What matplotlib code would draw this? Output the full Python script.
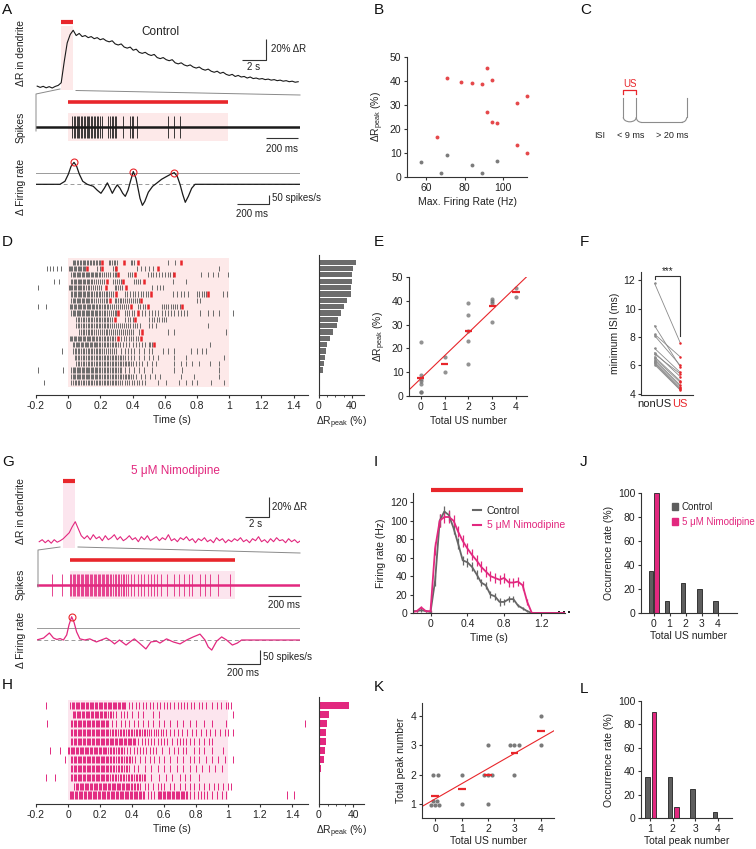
import numpy as np
import matplotlib
matplotlib.use('Agg')
import matplotlib.pyplot as plt
from matplotlib.lines import Line2D
from matplotlib.patches import Arc, Patch
from matplotlib.ticker import FuncFormatter

plt.rcParams['font.family'] = ['Liberation Sans', 'DejaVu Sans']
plt.rcParams['mathtext.fontset'] = 'custom'
plt.rcParams['mathtext.rm'] = 'Liberation Sans'
plt.rcParams['axes.unicode_minus'] = False
plt.rcParams['font.size'] = 7

RED = '#e8262b'
MAG = '#e2287f'
PINK = '#fde9e9'
PINK_N = '#fce5ee'
PT_GREY = '#7b7b7b'
BAR_GREY = '#5e5e5e'
AXC = '#333333'
TXT = '#222222'

# ---------------- data ----------------
stim = [0, 1]  # stimulus window (s)

# dR in dendrite, sampled every 0.25 s from -2 s (%)
dr_trace_ctrl = [0.8, -0.4, 0.6, -0.8, 0.3, -1.0, 0.5, 1.5, 4, 24, 42, 50, 54, 49, 51, 48,
                 49, 47, 48, 46, 47, 45, 46, 44, 43, 44, 41, 40, 41, 38, 37, 38,
                 35, 36, 33, 32, 33, 31, 30, 31, 28, 27, 28, 26, 25, 26, 23, 22,
                 23, 21, 20, 21, 19, 18, 19, 17, 16, 17, 15, 14, 15, 13, 14, 12,
                 11, 12, 10, 11, 9.5, 10, 8.5, 9.5, 8, 8.5, 7.5, 8, 7, 7.5, 6.5, 7,
                 6, 6.5, 5.5, 6, 5, 5.5, 4.5, 5]
dr_trace_nimo = [0, 2, -1, 1.5, -1.5, 2, -0.5, 1, 3, 6, 9, 15, 20, 13, 6, 3,
                 6, 2, 7, 3, 5, 1, 6, 2, 4, 7, 2, 5, 1, 3, 6, 2,
                 4, 0, 5, 2, 6, 1, 3, 5, 1, 4, 2, 7, 1, 3, 0, 4,
                 2, 5, 1, 3, -1, 3, 1, 4, 0, 2, -1, 4, 1, 3, -1, 2,
                 0, 3, 1, 4, 0, 2, -1, 3, 1, 5, 0, 2, -1, 3, 0, 4,
                 1, 2, -1, 3, 0, 2, -1, 1]

# delta firing rate traces (spikes/s)
fr_ctrl_t = [-0.2, -0.05, -0.019, 0.002, 0.019, 0.0375, 0.054, 0.071, 0.092, 0.12,
             0.158, 0.183, 0.206, 0.227, 0.246, 0.2625, 0.277, 0.294, 0.308, 0.325,
             0.342, 0.358, 0.375, 0.392, 0.408, 0.425, 0.44, 0.45, 0.465, 0.48,
             0.502, 0.529, 0.554, 0.585, 0.617, 0.642, 0.664, 0.683, 0.7, 0.717,
             0.733, 0.752, 0.773, 0.794, 1.45]
fr_ctrl_v = [0, 0, 17, 56, 100, 122, 100, 56, 17, 0,
             -11, -33, -50, -22, 8, -22, -50, -22, -3, -22,
             -50, -67, -33, 22, 71, 33, -33, -78, -117, -95,
             -44, -11, 6, 28, 44, 56, 65, 44, 0, -56,
             -100, -67, -22, 0, 0]
fr_ctrl_thr = 61
fr_nimo_t = [-0.202, -0.16, -0.125, -0.10, -0.08, -0.06, -0.04, -0.02, -0.006, 0.01,
             0.024, 0.04, 0.06, 0.09, 0.12, 0.16, 0.19, 0.22, 0.25, 0.27,
             0.30, 0.34, 0.37, 0.39, 0.42, 0.46, 0.49, 0.525, 0.545, 0.585,
             0.626, 0.667, 0.707, 0.747, 0.788, 0.818, 0.838, 0.859, 0.889, 0.919,
             0.949, 0.984, 1.014, 1.04, 1.394]
fr_nimo_v = [0, 7, 25, 7, 2, 5, 0, 18, 54, 83,
             64, 29, 4, 0, 4, -7, 0, 7, -4, -14,
             0, -18, -4, 4, -11, -32, -7, -4, -11, 4,
             -7, -14, 0, 11, 21, 0, -25, -36, -4, 11,
             0, -18, -11, 0, 0]
fr_nimo_thr = 42

# control raster: spike times (ms) per cell, sorted by dR peak; US = unitary spikes (bursts)
ctrl_rows = [
    [28, 37, 45, 54, 62, 71, 80, 89, 98, 107, 116, 125, 134, 143, 152, 161, 170, 180, 190, 198,
     252, 262, 273, 283, 293, 302, 388, 398, 408, 622, 662],
    [-130, -112, -92, -72, -42, 2, 10, 18, 26, 34, 42, 50, 58, 66, 74, 82, 90, 98, 106,
     180, 196, 276, 288, 300, 430, 455, 475, 500, 530, 935],
    [20, 28, 36, 44, 52, 60, 68, 76, 84, 92, 100, 108, 116, 124, 132, 140, 148, 156, 164, 172,
     180, 190, 200, 212, 224, 236, 250, 262, 276, 290, 300, 372, 385, 398,
     497, 512, 528, 545, 562, 580, 600, 618, 635, 650, 828, 870, 900, 932, 994],
    [-90, -60, 18, 26, 34, 42, 50, 58, 66, 74, 82, 90, 98, 106, 114, 122, 130, 140, 150, 160,
     172, 184, 196, 208, 220, 280, 292, 304, 318, 330, 412, 424, 436, 448, 650, 730],
    [-190, 2, 10, 18, 26, 34, 42, 50, 58, 66, 74, 82, 90, 100, 110, 120, 132, 144, 156, 168,
     180, 192, 204, 290, 300, 310, 322, 334, 520, 550, 570, 590],
    [18, 26, 34, 42, 50, 58, 66, 74, 82, 90, 98, 106, 114, 122, 130, 140, 150, 160, 170, 180,
     190, 200, 210, 220, 232, 244, 256, 268, 280, 352, 368, 385, 402, 418, 434, 450, 466, 482,
     498, 650, 675, 700, 720, 745, 800, 815, 830, 845, 858, 960, 985],
    [20, 28, 36, 44, 52, 60, 68, 76, 84, 92, 100, 108, 116, 124, 132, 140, 150, 160, 172, 184,
     196, 208, 220, 232, 244, 290, 300, 310, 320, 330, 342, 354, 366, 378, 390, 402, 414, 426,
     440, 800, 820],
    [-190, -140, 10, 18, 26, 34, 42, 50, 58, 66, 74, 82, 90, 98, 106, 114, 122, 130, 138, 146,
     154, 162, 170, 180, 190, 200, 210, 220, 230, 240, 250, 262, 274, 286, 298, 310, 322, 334,
     346, 358, 370, 432, 448, 464, 480, 580, 594, 608, 622, 636, 650, 664, 678, 692],
    [20, 28, 36, 44, 52, 60, 68, 76, 84, 92, 100, 108, 116, 124, 132, 140, 148, 156, 164, 172,
     180, 190, 200, 210, 220, 230, 240, 252, 264, 276, 288, 300, 350, 365, 380, 395, 410,
     460, 480, 500, 520, 540, 560, 580, 600, 620, 640, 660, 680, 700, 720, 740, 820, 870, 900,
     935, 1022],
    [50, 60, 70, 80, 90, 100, 110, 120, 130, 140, 150, 160, 170, 180, 190, 200, 210, 220, 230,
     240, 250, 260, 270, 355, 370, 385, 400, 505, 520, 535, 550, 565, 580, 595, 610],
    [50, 60, 70, 80, 90, 100, 110, 120, 130, 140, 150, 160, 170, 180, 190, 200, 210, 220, 230,
     240, 250, 262, 274, 286, 298, 310, 322, 334, 346, 358, 370, 385, 400, 415, 430, 445,
     500, 520, 545, 870],
    [70, 80, 90, 100, 110, 120, 130, 140, 150, 160, 172, 184, 196, 208, 220, 232, 244, 256, 268,
     280, 292, 304, 316, 328, 340, 352, 364, 376, 388, 400, 440, 620, 660, 980],
    [10, 18, 26, 34, 42, 50, 58, 66, 74, 82, 90, 98, 106, 114, 122, 130, 138, 146, 154, 162,
     170, 180, 190, 200, 210, 220, 230, 240, 250, 260, 270, 280, 290, 330, 345, 360, 375, 390,
     405, 420, 435],
    [30, 38, 46, 54, 62, 70, 78, 86, 94, 102, 110, 118, 126, 134, 142, 150, 158, 166, 174, 182,
     190, 200, 210, 220, 230, 240, 250, 260, 270, 280, 290, 300, 312, 324, 340, 360, 380, 400,
     420, 440, 460, 480, 500, 510, 520, 880],
    [-40, 30, 40, 50, 60, 70, 80, 90, 100, 110, 120, 130, 140, 150, 160, 170, 180, 190, 200,
     212, 224, 236, 248, 260, 272, 284, 296, 330, 350, 370, 390, 410, 440, 470, 500, 520,
     590, 620, 660, 760, 800, 830, 855],
    [40, 50, 60, 70, 80, 90, 100, 110, 120, 130, 140, 150, 160, 170, 180, 190, 200, 210, 220,
     230, 240, 250, 260, 270, 280, 290, 300, 310, 320, 330, 340, 350, 370, 390, 410, 440, 470,
     500, 530, 560, 655, 730, 970],
    [50, 60, 70, 80, 90, 100, 110, 120, 130, 140, 150, 160, 170, 180, 190, 200, 210, 220, 230,
     240, 250, 260, 270, 280, 290, 300, 310, 320, 330, 340, 350, 360, 370, 380, 390, 400,
     420, 440, 460, 490, 520, 545, 660, 700, 730, 770, 810, 880, 935],
    [-190, -30, 20, 28, 36, 44, 52, 60, 68, 76, 84, 92, 100, 108, 116, 124, 132, 140, 148, 156,
     164, 172, 180, 190, 200, 210, 220, 230, 240, 250, 260, 270, 280, 290, 300, 310, 320, 330,
     350, 380, 410, 440, 470, 520, 660, 710, 935],
    [20, 28, 36, 44, 52, 60, 68, 76, 84, 92, 100, 108, 116, 124, 132, 140, 148, 156, 164, 172,
     180, 190, 200, 210, 220, 230, 240, 250, 260, 270, 280, 290, 300, 310, 320, 330, 340, 350,
     360, 370, 380, 390, 400, 420, 450, 480, 510, 540, 570, 700, 780, 935],
    [-150, 20, 30, 40, 50, 60, 70, 80, 90, 100, 110, 120, 130, 140, 150, 160, 170, 180, 190,
     200, 210, 220, 230, 240, 250, 260, 270, 280, 290, 300, 310, 320, 335, 350, 365, 380, 395,
     410, 425, 440, 460, 480, 560, 610, 690, 730, 770, 800, 890, 970],
]
ctrl_us = [[210, 345, 432, 700], [118, 208, 295, 560], [310, 418, 660], [240, 340, 470],
           [235, 360], [295, 515, 870], [258, 455], [388, 498, 705], [312, 432], [290, 415],
           [], [458], [310, 455], [532], [], [], [], [], [], []]
dr_peak_ctrl = [45.5, 41.5, 40.8, 39.8, 39.2, 38.9, 34.0, 31.0, 27.3, 23.0,
                22.5, 16.5, 13.5, 10.0, 9.0, 7.0, 6.2, 5.0, 1.6, 1.5]
peaks_ctrl = [3, 4, 3, 3, 3, 3, 2, 2, 2, 2, 2, 2, 1, 1, 2, 1, 1, 1, 1, 1]

# nimodipine raster (ms)
nimo_rows = [
    [-140, 15, 23, 31, 39, 47, 55, 63, 71, 79, 87, 95, 103, 111, 119, 127, 135, 143, 151, 159,
     167, 175, 183, 191, 199, 207, 215, 223, 231, 239, 247, 255, 263, 271, 279, 287, 295, 303,
     311, 319, 327, 335, 343, 351, 359, 380, 400, 425, 445, 470, 490, 510, 530, 555, 575, 600,
     620, 640, 660, 685, 705, 725, 745, 770, 790, 820, 835, 865, 900, 930, 955, 985, 1000, 1020],
    [30, 38, 46, 54, 62, 70, 78, 86, 94, 102, 110, 118, 126, 134, 142, 150, 158, 166, 174, 182,
     190, 198, 206, 214, 222, 230, 240, 250, 260, 270, 280, 300, 330, 350, 370, 400, 440, 470,
     530, 570, 1030],
    [-130, 20, 28, 36, 44, 52, 60, 68, 76, 84, 92, 100, 108, 116, 124, 132, 140, 148, 156, 164,
     172, 180, 188, 196, 204, 212, 220, 228, 236, 244, 252, 275, 300, 330, 355, 380, 410, 440,
     470, 500, 530, 570, 600, 640, 680, 720, 760, 800, 850, 900, 990, 1480],
    [20, 28, 36, 44, 52, 60, 68, 76, 84, 92, 100, 108, 116, 124, 132, 140, 148, 156, 164, 172,
     180, 188, 196, 204, 212, 220, 228, 236, 244, 252, 262, 272, 282, 292, 302, 312, 322, 332,
     342, 352, 362, 372, 382, 392, 402, 412, 422, 432, 442, 452, 462, 472, 482, 492, 505, 520,
     535, 550, 565, 580, 595, 610, 640, 665, 690, 715, 745, 775, 800, 830, 860, 890, 920, 950,
     980, 1000, 1030],
    [20, 28, 36, 44, 52, 60, 68, 76, 84, 92, 100, 108, 116, 124, 132, 140, 148, 156, 164, 172,
     180, 188, 196, 204, 212, 220, 228, 236, 244, 252, 260, 268, 276, 284, 292, 300, 308, 316,
     324, 332, 340, 348, 356, 364, 372, 380, 388, 396, 404, 412, 420, 440, 460, 480, 500, 520,
     540, 560, 580, 600, 620, 650, 680, 700, 720, 740, 760, 790, 820, 850, 880, 900],
    [-110, -50, 0, 8, 16, 24, 32, 40, 48, 56, 64, 72, 80, 88, 96, 104, 112, 120, 128, 136, 144,
     152, 160, 168, 176, 184, 192, 200, 208, 216, 224, 232, 240, 250, 260, 270, 280, 290, 300,
     310, 320, 330, 340, 350, 370, 390, 410, 430, 450, 470, 490, 510, 530, 550, 590, 630, 660,
     690, 720, 740, 790, 820, 850, 900, 970],
    [-20, 20, 28, 36, 44, 52, 60, 68, 76, 84, 92, 100, 108, 116, 124, 132, 140, 148, 156, 164,
     172, 180, 188, 196, 204, 212, 220, 228, 236, 244, 252, 260, 270, 280, 290, 300, 310, 320,
     330, 340, 350, 360, 370, 380, 390, 400, 420, 450, 480, 510, 540, 570, 600, 640, 680, 720,
     760, 790, 820, 860, 900, 940, 980, 1030],
    [20, 28, 36, 44, 52, 60, 68, 76, 84, 92, 100, 108, 116, 124, 132, 140, 148, 156, 164, 172,
     180, 188, 196, 204, 212, 220, 228, 236, 244, 252, 260, 270, 280, 290, 300, 310, 320, 330,
     340, 350, 360, 370, 380, 410, 440, 480, 520, 560, 600, 640, 680, 720, 760, 800, 840, 880,
     920, 960],
    [-140, -80, 20, 28, 36, 44, 52, 60, 68, 76, 84, 92, 100, 108, 116, 124, 132, 140, 148, 156,
     164, 172, 180, 188, 196, 204, 212, 220, 228, 236, 244, 252, 262, 272, 282, 292, 302, 312,
     322, 332, 342, 352, 362, 372, 382, 392, 402, 412, 422, 432, 442, 452, 462, 472, 482, 520,
     570, 610, 650, 700, 730, 760, 820],
    [40, 48, 56, 64, 72, 80, 88, 96, 104, 112, 120, 128, 136, 144, 152, 160, 168, 176, 184, 192,
     200, 208, 216, 224, 232, 240, 248, 256, 264, 272, 280, 288, 296, 304, 312, 320, 328, 336,
     344, 352, 360, 368, 376, 384, 392, 400, 410, 420, 430, 440, 450, 480, 500, 530, 560, 580,
     600, 640, 660, 700, 730, 760, 790, 820, 850, 880, 910, 940, 970, 1000, 1020],
    [10, 18, 26, 34, 42, 50, 58, 66, 74, 82, 90, 98, 106, 114, 122, 130, 138, 146, 154, 162,
     170, 178, 186, 194, 202, 210, 218, 226, 234, 242, 250, 258, 266, 274, 282, 290, 298, 306,
     314, 322, 330, 338, 346, 354, 362, 370, 378, 386, 394, 402, 410, 418, 426, 434, 442, 450,
     458, 466, 474, 500, 520, 540, 560, 568, 576, 584, 592, 600, 608, 616, 624, 632, 640, 648,
     656, 664, 672, 680, 688, 696, 704, 712, 720, 728, 736, 744, 760, 790, 810, 830, 850, 870,
     900, 930, 960, 990, 1370, 1410],
]
nimo_us = [[] for _ in nimo_rows]
dr_peak_nimo = [35.4, 11.7, 9.7, 7.8, 7.8, 6.6, 5.4, 2.0, 1.2, 0.3, 0.3]
peaks_nimo = [2, 1, 1, 1, 1, 1, 1, 1, 1, 1, 1]
ex_ctrl, ex_nimo = 0, 5   # example cells shown in A and G

# B: max firing rate vs dR peak
b_rate_red = [65.6, 71.1, 78.4, 83.8, 89.0, 91.5, 94.3, 91.5, 94.3, 96.9, 107.3, 112.5, 107.3, 112.5]
b_dr_red = [16.6, 41.2, 39.5, 39.0, 38.7, 45.3, 40.6, 27.2, 22.9, 22.4, 30.9, 33.8, 13.4, 9.9]
b_rate_grey = [57.6, 68.0, 70.8, 83.8, 89.0, 96.9]
b_dr_grey = [6.1, 1.7, 9.1, 5.0, 1.7, 6.8]

# F: minimum ISI (ms)
isi_nonus = [11.8, 8.8, 8.2, 8.1, 7.2, 6.9, 6.8, 6.6, 6.5, 6.4, 6.3, 6.2, 6.15, 6.05]
isi_us = [7.6, 5.9, 6.6, 6.0, 5.5, 5.2, 5.4, 4.9, 4.8, 4.6, 4.5, 4.4, 4.3, 4.25]

# I: firing rate (Hz), 50 ms bins
i_t = np.round(np.arange(-0.2, 1.501, 0.05), 2)
i_ctrl = [2, 2, 3, 2, 1, 35, 100, 110, 106, 92, 75, 57, 55, 50, 42, 33, 30, 20, 18, 12,
          12, 15, 15, 8, 5, 2, 0, 0, 0, 0, 0, 0, 0, 0, 0]
i_ctrl_err = [1, 1, 2, 1, 1, 6, 7, 6, 6, 6, 6, 5, 5, 5, 5, 4, 4, 4, 4, 4,
              3, 3, 3, 2, 2, 1, 0, 0, 0, 0, 0, 0, 0, 0, 0]
i_nimo = [1, 2, 6, 2, 2, 70, 100, 104, 104, 100, 88, 78, 70, 63, 57, 50, 45, 40, 38, 36,
          38, 33, 33, 34, 30, 12, 0, 0, 0, 0, 0, 0, 0, 0, 0]
i_nimo_err = [1, 1, 2, 1, 1, 7, 7, 6, 6, 6, 6, 6, 6, 6, 6, 6, 6, 5, 5, 5,
              5, 5, 5, 5, 5, 3, 0, 0, 0, 0, 0, 0, 0, 0, 0]

# ---------------- helpers ----------------
W, H = 756, 849
fig = plt.figure(figsize=(W / 100, H / 100), dpi=100)


def px_axes(l, t, r, b):
    return fig.add_axes([l / W, 1 - b / H, (r - l) / W, (b - t) / H])


def ftext(x, y, s, **kw):
    fig.text(x / W, 1 - y / H, s, **kw)


def fline(xs, ys, **kw):
    fig.add_artist(Line2D(np.array(xs) / W, 1 - np.array(ys) / H,
                          transform=fig.transFigure, **kw))


def style(ax):
    for s in ['top', 'right']:
        ax.spines[s].set_visible(False)
    for s in ['left', 'bottom']:
        ax.spines[s].set_color(AXC)
        ax.spines[s].set_linewidth(0.8)
    ax.tick_params(length=2.5, width=0.8, color=AXC, labelsize=7.5, labelcolor=TXT, pad=1.5)
    ax.xaxis.label.set_color(TXT)
    ax.yaxis.label.set_color(TXT)


def local_peaks(t, v, thr):
    v = np.asarray(v)
    idx = [i for i in range(1, len(v) - 1) if v[i] >= v[i - 1] and v[i] > v[i + 1] and v[i] > thr]
    return np.asarray(t)[idx], v[idx]


def sb(ax, xs, ys):
    ax.plot(xs, ys, color=AXC, lw=0.8, clip_on=False, solid_capstyle='butt')


fmt = FuncFormatter(lambda v, p: '%g' % round(v, 2))
DRP = 'ΔR$_{\\mathrm{peak}}$ (%)'
LBL = 7.5

# panel letters
for s, x, y in [('A', 2, 3), ('B', 374, 3), ('C', 580, 3), ('D', 2, 235), ('E', 374, 235),
                ('F', 580, 235), ('G', 2, 455), ('I', 374, 455), ('J', 580, 455),
                ('H', 2, 678), ('K', 374, 680), ('L', 580, 682)]:
    ftext(x, y, s, fontsize=11, va='top', ha='left', color='#111')


# ---------------- A / G traces ----------------
def trace_block(tr, fr_t, fr_v, thr, spikes, color, shade, tcfg):
    (dr_ax, sp_ax, fr_ax) = tcfg
    # dR trace
    ax = px_axes(*dr_ax['box'])
    ax.axis('off')
    ax.set_xlim(*dr_ax['xlim'])
    ax.set_ylim(*dr_ax['ylim'])
    t = np.arange(len(tr)) * 0.25 - 2.0
    ax.fill_between(stim, dr_ax['shade'][0], dr_ax['shade'][1], color=shade, lw=0)
    ax.plot(stim, [dr_ax['bar']] * 2, color=RED, lw=3, solid_capstyle='butt', clip_on=False)
    ax.plot(t, tr, color=color, lw=0.8)
    sb(ax, [dr_ax['sbx'] - 2, dr_ax['sbx'], dr_ax['sbx']], [dr_ax['sby'], dr_ax['sby'], dr_ax['sby'] + 20])
    # spikes
    ax = px_axes(*sp_ax['box'])
    ax.axis('off')
    ax.set_xlim(*sp_ax['xlim'])
    ax.set_ylim(*sp_ax['ylim'])
    ax.fill_between(stim, -1.2, 1.2, color=shade, lw=0)
    ax.plot(stim, [2.05] * 2, color=RED, lw=2.6, solid_capstyle='butt')
    ax.plot(sp_ax['xlim'], [0, 0], color=color, lw=1.8)
    ax.vlines(np.asarray(spikes) / 1000, -0.95, 0.95, color=color, lw=0.6)
    sb(ax, [sp_ax['sbx'], sp_ax['sbx'] + 0.2], [-0.9, -0.9])
    # firing rate
    ax = px_axes(*fr_ax['box'])
    ax.axis('off')
    ax.set_xlim(*fr_ax['xlim'])
    ax.set_ylim(*fr_ax['ylim'])
    ax.axhline(thr, color='#9a9a9a', lw=0.7)
    ax.axhline(0, color='#9a9a9a', lw=0.7, ls=(0, (4, 3)))
    ax.plot(fr_t, fr_v, color=color, lw=0.9)
    pt, pv = local_peaks(fr_t, fr_v, thr)
    ax.plot(pt, pv, 'o', mfc='none', mec=RED, ms=5, mew=0.8)
    x0, ysb = fr_ax['sb']
    sb(ax, [x0, x0 + 0.2, x0 + 0.2], [ysb, ysb, ysb + 50])


spk_ctrl = sorted(ctrl_rows[ex_ctrl] + ctrl_us[ex_ctrl])
trace_block(dr_trace_ctrl, fr_ctrl_t, fr_ctrl_v, fr_ctrl_thr, spk_ctrl, '#1a1a1a', PINK,
            [dict(box=(36, 20, 300, 92), xlim=(-2.1, 19.9), ylim=(-4.8, 63.8), shade=(-3, 58),
                  bar=62, sbx=17.07, sby=25.7),
             dict(box=(36, 98, 300, 145), xlim=(-0.2, 1.45), ylim=(-1.5, 2.42), sbx=1.2375),
             dict(box=(36, 155, 300, 212), xlim=(-0.2, 1.45), ylim=(-154, 163), sb=(1.054, -109))])
ftext(160, 32, 'Control', fontsize=8.5, ha='center', va='center', color=TXT)
ftext(271, 49, '20% ΔR', fontsize=7, va='center', color=TXT)
ftext(254, 67, '2 s', fontsize=7, ha='center', va='center', color=TXT)
ftext(282, 149, '200 ms', fontsize=7, ha='center', va='center', color=TXT)
ftext(272, 198, '50 spikes/s', fontsize=7, va='center', color=TXT)
ftext(252, 214, '200 ms', fontsize=7, ha='center', va='center', color=TXT)
for s, y in [('ΔR in dendrite', 53), ('Spikes', 127), ('Δ Firing rate', 187)]:
    ftext(21, y, s, rotation=90, ha='center', va='center', fontsize=LBL, color=TXT)
fline([60, 36, 36], [89, 94, 131], color='#8a8a8a', lw=0.7)
fline([76, 300], [90.5, 95], color='#8a8a8a', lw=0.7)

spk_nimo = sorted(nimo_rows[ex_nimo] + nimo_us[ex_nimo])
trace_block(dr_trace_nimo, fr_nimo_t, fr_nimo_v, fr_nimo_thr, spk_nimo, MAG, PINK_N,
            [dict(box=(38, 476, 300, 552), xlim=(-2.1, 19.7), ylim=(-10.3, 65.7), shade=(-6.6, 61),
                  bar=60.7, sbx=17.1, sby=25),
             dict(box=(37, 554, 300, 602), xlim=(-0.2, 1.394), ylim=(-1.42, 2.58), sbx=1.2),
             dict(box=(37, 608, 300, 662), xlim=(-0.2, 1.394), ylim=(-78.6, 114.3), sb=(0.95, -86))])
ftext(175, 471, '5 μM Nimodipine', fontsize=8.5, ha='center', va='center', color=MAG)
ftext(272, 507, '20% ΔR', fontsize=7, va='center', color=TXT)
ftext(256, 524, '2 s', fontsize=7, ha='center', va='center', color=TXT)
ftext(284, 605, '200 ms', fontsize=7, ha='center', va='center', color=TXT)
ftext(263, 657, '50 spikes/s', fontsize=7, va='center', color=TXT)
ftext(243, 673, '200 ms', fontsize=7, ha='center', va='center', color=TXT)
for s, y in [('ΔR in dendrite', 511), ('Spikes', 584), ('Δ Firing rate', 640)]:
    ftext(21, y, s, rotation=90, ha='center', va='center', fontsize=LBL, color=TXT)
fline([60, 38, 38], [547, 550, 587], color='#8a8a8a', lw=0.7)
fline([78, 300], [547, 553], color='#8a8a8a', lw=0.7)


# ---------------- D / H rasters ----------------
def raster(rows, us, dr_peak, box, ylim, tcolor, shade, bar_color, xr, bar_box, bar_xlim, shade_y):
    ax = px_axes(*box)
    style(ax)
    ax.spines['left'].set_visible(False)
    ax.set_xlim(*xr)
    ax.set_ylim(*ylim)
    ax.fill_between(stim, shade_y[0], shade_y[1], color=shade, lw=0)
    for i, (row, u) in enumerate(zip(rows, us)):
        ax.vlines(np.asarray(row) / 1000, i - 0.4, i + 0.4, color=tcolor, lw=0.7)
        if u:
            ax.vlines(np.asarray(u) / 1000, i - 0.4, i + 0.4, color=RED, lw=1.8)
    ax.set_yticks([])
    ax.set_xticks(np.round(np.arange(-0.2, 1.41, 0.2), 1))
    ax.xaxis.set_major_formatter(fmt)
    ax.set_xlabel('Time (s)', fontsize=LBL, labelpad=3)
    bx = px_axes(*bar_box)
    style(bx)
    bx.barh(np.arange(len(dr_peak)), dr_peak, height=0.8, color=bar_color)
    bx.set_ylim(*ylim)
    bx.set_xlim(*bar_xlim)
    bx.set_yticks([])
    bx.set_xticks([0, 40])
    bx.set_xticks([10, 20, 30], minor=True)
    bx.tick_params(which='minor', length=1.5, width=0.6, color=AXC)
    bx.set_xlabel(DRP, fontsize=LBL, labelpad=3)


raster(ctrl_rows, ctrl_us, dr_peak_ctrl, (36, 255, 308, 395), (20.94, -1.15), '#6a6a6a', PINK,
       '#6c6c6c', (-0.2, 1.49), (319, 255, 364, 395), (0, 54.9), (-0.68, 19.7))
raster(nimo_rows, nimo_us, dr_peak_nimo, (36, 697, 308, 804), (11.0, -0.97), MAG, PINK_N,
       MAG, (-0.2, 1.5), (319, 697, 364, 804), (0, 52.5), (-0.64, 10.56))

# ---------------- B ----------------
ax = px_axes(407, 57, 527, 177)
style(ax)
ax.plot(b_rate_grey, b_dr_grey, 'o', color=PT_GREY, ms=2.8, mew=0)
ax.plot(b_rate_red, b_dr_red, 'o', color='#e5484b', ms=2.8, mew=0, clip_on=False)
ax.set_xlim(50.1, 112.5)
ax.set_ylim(0, 50)
ax.set_xticks([60, 80, 100])
ax.set_yticks(range(0, 51, 10))
ax.set_xlabel('Max. Firing Rate (Hz)', fontsize=LBL, labelpad=3)
ax.set_ylabel(DRP, fontsize=LBL, labelpad=3)

# ---------------- C schematic ----------------
ax = px_axes(560, 60, 740, 150)
ax.axis('off')
ax.set_xlim(560, 740)
ax.set_ylim(150, 60)
g = '#8c8c8c'
for x in [623.3, 636.3, 686.7]:
    ax.plot([x, x], [97.5, 117.3], color=g, lw=0.8)
ax.add_patch(Arc((629.8, 117.3), 13, 9, theta1=0, theta2=180, color=g, lw=0.8))
ax.add_patch(Arc((641.3, 117.3), 10, 10, theta1=90, theta2=180, color=g, lw=0.8))
ax.add_patch(Arc((681.7, 117.3), 10, 10, theta1=0, theta2=90, color=g, lw=0.8))
ax.plot([641.3, 681.7], [122.3, 122.3], color=g, lw=0.8)
ax.plot([623.3, 623.3, 636.3, 636.3], [93.5, 90, 90, 93.5], color=RED, lw=0.9)
ax.text(630, 84, 'US', color=RED, fontsize=7, ha='center', va='center')
ax.text(600, 135, 'ISI', color=TXT, fontsize=6.5, ha='center', va='center')
ax.text(631, 135, '< 9 ms', color=TXT, fontsize=6.5, ha='center', va='center')
ax.text(672, 135, '> 20 ms', color=TXT, fontsize=6.5, ha='center', va='center')

# ---------------- E ----------------
us_n = np.array([len(u) for u in ctrl_us])
dr_c = np.array(dr_peak_ctrl)
ax = px_axes(409, 277, 527, 396)
style(ax)
ax.set_xlim(-0.49, 4.46)
ax.set_ylim(0, 50)
ax.plot(us_n, dr_c, 'o', color='#6f6f6f', alpha=0.75, ms=3, mew=0)
for k in range(5):
    m = dr_c[us_n == k].mean()
    ax.plot([k - 0.15, k + 0.15], [m, m], color=RED, lw=1.6, solid_capstyle='butt')
p = np.polyfit(us_n, dr_c, 1)
xx = np.array([-0.49, 4.46])
ax.plot(xx, np.polyval(p, xx), color=RED, lw=0.8)
ax.set_xticks(range(5))
ax.set_yticks(range(0, 51, 10))
ax.set_xlabel('Total US number', fontsize=LBL, labelpad=3)
ax.set_ylabel(DRP, fontsize=LBL, labelpad=3)

# ---------------- F ----------------
ax = px_axes(641, 272, 693, 395)
style(ax)
ax.set_xlim(-0.53, 1.5)
ax.set_ylim(3.9, 12.6)
for a, b in zip(isi_nonus, isi_us):
    ax.plot([0, 1], [a, b], color='#8a8a8a', lw=0.6)
ax.plot(np.zeros(len(isi_nonus)), isi_nonus, 'o', color='#8a8a8a', ms=1.8, mew=0)
ax.plot(np.ones(len(isi_us)), isi_us, 'o', color=RED, ms=1.8, mew=0)
ax.plot([0, 0, 1, 1], [12.1, 12.3, 12.3, 8.1], color=AXC, lw=0.8)
ax.text(0.5, 12.28, '***', ha='center', va='bottom', fontsize=7, color=TXT)
ax.set_xticks([0, 1])
ax.set_xticklabels(['nonUS', 'US'])
ax.get_xticklabels()[1].set_color(RED)
ax.tick_params(axis='x', length=0, labelsize=8, pad=3)
ax.set_yticks([4, 6, 8, 10, 12])
ax.set_ylabel('minimum ISI (ms)', fontsize=LBL, labelpad=3)

# ---------------- I ----------------
ax = px_axes(413, 493, 565, 613)
style(ax)
ax.set_xlim(-0.19, 1.46)
ax.set_ylim(0, 130)
ax.errorbar(i_t, i_ctrl, yerr=i_ctrl_err, color='#666666', lw=1.3, elinewidth=0.9, capsize=0)
ax.errorbar(i_t, i_nimo, yerr=i_nimo_err, color=MAG, lw=1.3, elinewidth=0.9, capsize=0)
ax.plot(i_t[-3:], np.asarray(i_nimo[-3:]) + 1, 's', color='#222', ms=2, mew=0, clip_on=False)
ax.plot(stim, [133, 133], color=RED, lw=3, solid_capstyle='butt', clip_on=False)
ax.set_xticks([0, 0.4, 0.8, 1.2])
ax.xaxis.set_major_formatter(fmt)
ax.set_yticks(range(0, 121, 20))
ax.set_xlabel('Time (s)', fontsize=LBL, labelpad=3)
ax.set_ylabel('Firing rate (Hz)', fontsize=LBL, labelpad=3)
leg = ax.legend([Line2D([], [], color='#666666', lw=1.5), Line2D([], [], color=MAG, lw=1.5)],
                ['Control', '5 μM Nimodipine'], loc='upper left',
                bbox_to_anchor=(473 / W, 1 - 506 / H), bbox_transform=fig.transFigure,
                frameon=False, fontsize=7.5, handlelength=0.8, handletextpad=0.5,
                borderpad=0, borderaxespad=0, labelspacing=0.4)
for t, c in zip(leg.get_texts(), [TXT, MAG]):
    t.set_color(c)


# ---------------- J / L ----------------
def occ(vals, cats):
    vals = np.asarray(vals)
    return np.array([np.mean(vals == c) * 100 for c in cats])


def occ_bars(box, cats, ctrl, nimo, xlim, off, width, xlabel, legend):
    ax = px_axes(*box)
    style(ax)
    x = np.asarray(cats, dtype=float)
    ax.bar(x + off[0], ctrl, width=width, color=BAR_GREY, edgecolor='#222', lw=0.6)
    nz = np.asarray(nimo) > 0
    ax.bar(x[nz] + off[1], np.asarray(nimo)[nz], width=width, color=MAG, edgecolor='#222', lw=0.6)
    ax.set_xlim(*xlim)
    ax.set_ylim(0, 100)
    ax.set_xticks(cats)
    ax.set_yticks(range(0, 101, 20))
    ax.set_xlabel(xlabel, fontsize=LBL, labelpad=2)
    ax.set_ylabel('Occurrence rate (%)', fontsize=LBL, labelpad=3)
    if legend:
        leg = ax.legend([Patch(color=BAR_GREY), Patch(color=MAG)], ['Control', '5 μM Nimodipine'],
                        loc='upper left', bbox_to_anchor=(672 / W, 1 - 502 / H),
                        bbox_transform=fig.transFigure, frameon=False, fontsize=7,
                        handlelength=0.6, handleheight=0.6, handletextpad=0.4,
                        borderpad=0, borderaxespad=0, labelspacing=0.5)
        for t, c in zip(leg.get_texts(), [TXT, MAG]):
            t.set_color(c)


us_nimo_n = [len(u) for u in nimo_us]
occ_bars((641, 493, 737, 613), [0, 1, 2, 3, 4], occ(us_n, range(5)), occ(us_nimo_n, range(5)),
         (-0.78, 5.2), (-0.15, 0.2), 0.28, 'Total US number', True)
occ_bars((641, 701, 732, 818), [1, 2, 3, 4], occ(peaks_ctrl, range(1, 5)), occ(peaks_nimo, range(1, 5)),
         (0.59, 4.62), (-0.13, 0.17), 0.2, 'Total peak number', False)

# ---------------- K ----------------
ax = px_axes(422, 703, 554, 818)
style(ax)
ax.set_xlim(-0.51, 4.5)
ax.set_ylim(0.52, 4.44)
pk = np.array(peaks_ctrl)
for k in range(5):
    for v in np.unique(pk[us_n == k]):
        n = int(np.sum((us_n == k) & (pk == v)))
        if n > 3:
            top = (n + 1) // 2
            xs = np.r_[(np.arange(top) - (top - 1) / 2) * 0.15, (np.arange(n - top) - (n - top - 1) / 2) * 0.15]
            ys = np.r_[np.full(top, v - 0.04), np.full(n - top, v + 0.09)]
        else:
            xs = (np.arange(n) - (n - 1) / 2) * 0.16
            ys = np.full(n, v)
        ax.plot(k + xs, ys, 'o', color='#7a7a7a', ms=3, mew=0)
    m = pk[us_n == k].mean()
    ax.plot([k - 0.15, k + 0.15], [m, m], color=RED, lw=1.6, solid_capstyle='butt')
p = np.polyfit(us_n, pk, 1)
xx = np.array([-0.51, 4.5])
ax.plot(xx, np.polyval(p, xx), color=RED, lw=0.8)
ax.set_xticks(range(5))
ax.set_yticks([1, 2, 3, 4])
ax.set_xlabel('Total US number', fontsize=LBL, labelpad=2)
ax.set_ylabel('Total peak number', fontsize=LBL, labelpad=3)

fig.savefig('out.png', dpi=100)
